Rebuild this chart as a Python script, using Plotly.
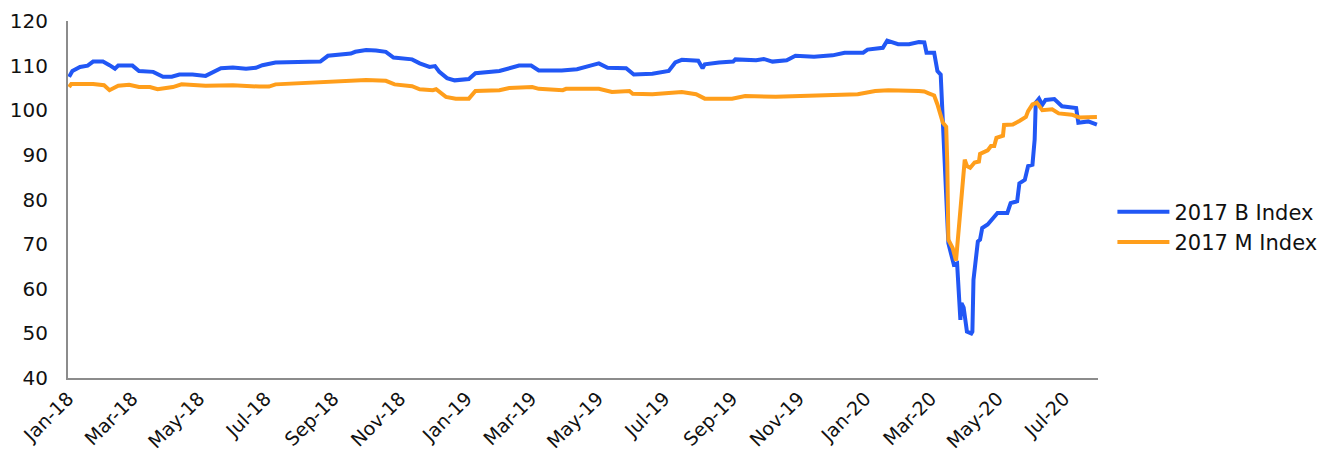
import plotly.graph_objects as go

# 2017 B Index, daily closes (selected dates)
b_dates = [
    "2018-01-02", "2018-01-05", "2018-01-12", "2018-01-19", "2018-01-24", "2018-02-02",
    "2018-02-08", "2018-02-13", "2018-02-16", "2018-03-01", "2018-03-07", "2018-03-20",
    "2018-03-29", "2018-04-06", "2018-04-13", "2018-04-25", "2018-05-07", "2018-05-14",
    "2018-05-21", "2018-06-01", "2018-06-13", "2018-06-22", "2018-06-28", "2018-07-10",
    "2018-08-01", "2018-08-07", "2018-08-20", "2018-08-27", "2018-09-06", "2018-09-17",
    "2018-09-21", "2018-10-01", "2018-10-10", "2018-10-19", "2018-10-26", "2018-11-06",
    "2018-11-12", "2018-11-19", "2018-11-28", "2018-12-03", "2018-12-07", "2018-12-14",
    "2018-12-21", "2019-01-03", "2019-01-09", "2019-01-31", "2019-02-08", "2019-02-18",
    "2019-03-01", "2019-03-08", "2019-03-29", "2019-04-12", "2019-04-26", "2019-05-02",
    "2019-05-10", "2019-05-27", "2019-06-03", "2019-06-20", "2019-07-05", "2019-07-11",
    "2019-07-17", "2019-08-01", "2019-08-05", "2019-08-07", "2019-08-20", "2019-09-02",
    "2019-09-04", "2019-09-23", "2019-09-30", "2019-10-08", "2019-10-21", "2019-10-29",
    "2019-11-15", "2019-12-02", "2019-12-13", "2019-12-30", "2020-01-03", "2020-01-17",
    "2020-01-21", "2020-01-31", "2020-02-10", "2020-02-19", "2020-02-24", "2020-02-26",
    "2020-03-04", "2020-03-07", "2020-03-10", "2020-03-12", "2020-03-14", "2020-03-17",
    "2020-03-22", "2020-03-25", "2020-03-28", "2020-03-29", "2020-03-31", "2020-04-03",
    "2020-04-07", "2020-04-08", "2020-04-09", "2020-04-13", "2020-04-15", "2020-04-17",
    "2020-04-22", "2020-04-27", "2020-05-01", "2020-05-10", "2020-05-13", "2020-05-19",
    "2020-05-21", "2020-05-26", "2020-05-29", "2020-06-02", "2020-06-04", "2020-06-05",
    "2020-06-08", "2020-06-11", "2020-06-14", "2020-06-22", "2020-06-29", "2020-07-12",
    "2020-07-14", "2020-07-23", "2020-07-31",
]
b_values = [
    107.5, 108.8, 109.7, 110.0, 110.9, 110.9,
    110.1, 109.3, 110.0, 110.0, 108.8, 108.6,
    107.5, 107.5, 108.0, 108.0, 107.7, 108.6,
    109.4, 109.6, 109.3, 109.5, 110.1, 110.7,
    110.7, 110.9, 110.9, 112.2, 112.5, 112.7,
    113.1, 113.5, 113.4, 113.1, 111.8, 111.5,
    111.4, 110.5, 109.7, 109.9, 108.6, 107.2,
    106.7, 107.0, 108.3, 108.8, 109.4, 110.0,
    110.0, 108.9, 108.9, 109.2, 110.1, 110.5,
    109.5, 109.4, 108.0, 108.2, 108.8, 110.7,
    111.3, 111.1, 109.4, 110.3, 110.7, 110.9,
    111.4, 111.2, 111.5, 110.9, 111.2, 112.2,
    112.0, 112.3, 112.9, 112.9, 113.6, 114.0,
    115.6, 114.8, 114.8, 115.3, 115.2, 112.9,
    112.9, 108.8, 108.0, 97.0, 90.4, 70.2,
    65.4, 65.7, 53.0, 56.8, 55.8, 50.4,
    50.0, 50.4, 62.0, 70.6, 71.0, 73.6,
    74.4, 75.8, 77.0, 77.0, 79.2, 79.6,
    83.6, 84.4, 87.5, 87.8, 93.4, 101.7,
    102.6, 101.2, 102.3, 102.5, 100.9, 100.5,
    97.2, 97.5, 96.8,
]

# 2017 M Index, daily closes (selected dates)
m_dates = [
    "2018-01-02", "2018-01-04", "2018-01-24", "2018-02-03", "2018-02-08", "2018-02-16",
    "2018-02-26", "2018-03-07", "2018-03-17", "2018-03-24", "2018-04-07", "2018-04-15",
    "2018-05-07", "2018-06-01", "2018-06-25", "2018-07-04", "2018-07-10", "2018-08-01",
    "2018-08-31", "2018-10-01", "2018-10-19", "2018-10-27", "2018-11-12", "2018-11-19",
    "2018-12-01", "2018-12-04", "2018-12-13", "2018-12-22", "2019-01-03", "2019-01-09",
    "2019-01-31", "2019-02-09", "2019-03-02", "2019-03-08", "2019-03-30", "2019-04-02",
    "2019-05-02", "2019-05-14", "2019-05-30", "2019-06-02", "2019-06-20", "2019-07-17",
    "2019-07-30", "2019-08-07", "2019-09-01", "2019-09-13", "2019-10-11", "2019-11-16",
    "2019-12-25", "2020-01-10", "2020-01-22", "2020-02-19", "2020-02-24", "2020-02-28",
    "2020-03-04", "2020-03-07", "2020-03-11", "2020-03-12", "2020-03-15", "2020-03-16",
    "2020-03-17", "2020-03-21", "2020-03-24", "2020-03-26", "2020-03-30", "2020-04-01",
    "2020-04-03", "2020-04-06", "2020-04-10", "2020-04-14", "2020-04-15", "2020-04-22",
    "2020-04-25", "2020-04-28", "2020-04-30", "2020-05-04", "2020-05-06", "2020-05-07",
    "2020-05-15", "2020-05-21", "2020-05-27", "2020-05-29", "2020-06-02", "2020-06-06",
    "2020-06-08", "2020-06-11", "2020-06-20", "2020-06-26", "2020-07-08", "2020-07-15",
    "2020-07-31",
]
m_values = [
    105.2, 105.9, 105.9, 105.6, 104.5, 105.5,
    105.7, 105.2, 105.2, 104.7, 105.2, 105.8,
    105.5, 105.6, 105.3, 105.3, 105.8, 106.1,
    106.3, 106.8, 106.6, 105.8, 105.4, 104.7,
    104.5, 104.7, 103.0, 102.6, 102.6, 104.3,
    104.5, 105.0, 105.2, 104.8, 104.5, 104.8,
    104.8, 104.1, 104.3, 103.7, 103.6, 104.1,
    103.6, 102.6, 102.6, 103.2, 103.0, 103.3,
    103.6, 104.3, 104.5, 104.3, 104.2, 103.8,
    103.3, 101.3, 98.5, 97.2, 96.3, 88.2,
    71.0, 69.1, 66.3, 72.5, 83.7, 88.9,
    87.5, 87.1, 88.3, 88.5, 90.2, 91.0,
    92.0, 92.0, 93.8, 94.2, 94.3, 96.7,
    96.8, 97.6, 98.5, 99.8, 101.3, 101.7,
    100.9, 100.0, 100.2, 99.3, 99.0, 98.4,
    98.5,
]

FONT = "DejaVu Sans"
AXIS_GREY = "#8c8c8c"
TEXT = "#111111"

fig = go.Figure()
fig.add_trace(go.Scatter(
    x=b_dates, y=b_values, mode="lines", name="2017 B Index",
    line=dict(color="#2157f5", width=4),
))
fig.add_trace(go.Scatter(
    x=m_dates, y=m_values, mode="lines", name="2017 M Index",
    line=dict(color="#ff9e1b", width=4),
))

fig.update_layout(
    width=1333, height=457,
    margin=dict(l=68, r=235, t=21, b=79, autoexpand=False),
    paper_bgcolor="white", plot_bgcolor="white",
    font=dict(family=FONT, size=20, color=TEXT),
    showlegend=True,
    legend=dict(
        x=1.014, y=0.423, xanchor="left", yanchor="middle",
        font=dict(family=FONT, size=21, color=TEXT),
        itemwidth=52, bgcolor="rgba(0,0,0,0)",
    ),
    xaxis=dict(
        type="date", automargin=False,
        range=["2018-01-01", "2020-08-01"],
        tick0="2018-01-01", dtick="M2", tickformat="%b-%y",
        tickangle=-45, ticks="", showgrid=False, zeroline=False,
        showline=True, linecolor=AXIS_GREY, linewidth=2,
        tickfont=dict(family=FONT, size=19, color=TEXT),
        ticklabelstandoff=0,
    ),
    yaxis=dict(
        automargin=False,
        range=[40, 120], dtick=10, tick0=40,
        ticks="", showgrid=False, zeroline=False,
        showline=True, linecolor=AXIS_GREY, linewidth=2,
        tickfont=dict(family=FONT, size=20, color=TEXT),
        ticklabelstandoff=14,
    ),
)

fig.write_html("out.html")
